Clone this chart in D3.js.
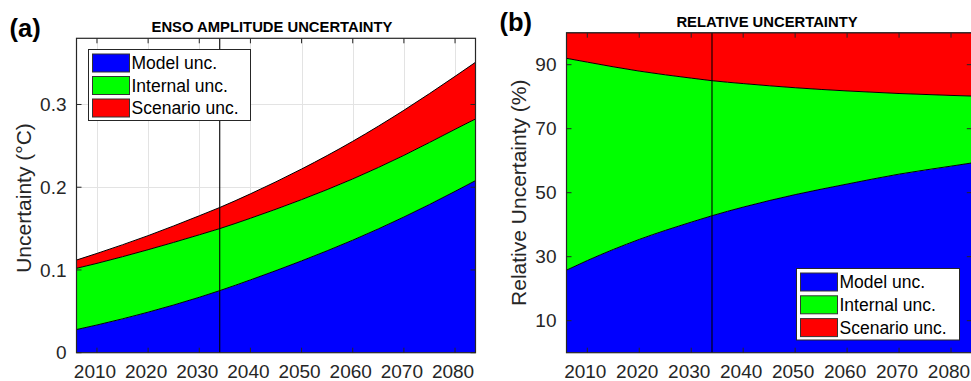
<!DOCTYPE html>
<html>
<head>
<meta charset="utf-8">
<script src="https://cdn.jsdelivr.net/npm/d3@7"></script>
<style>
  html, body { margin: 0; padding: 0; background: #fff; }
  svg { display: block; font-family: "Liberation Sans", Arial, sans-serif; }
</style>
</head>
<body>
<svg id="chart" width="971" height="381"></svg>
<script>
// Sample years shared by both panels
const years = [2006, 2010, 2020, 2030, 2034, 2040, 2050, 2060, 2070, 2080, 2084];

// Panel (a): uncertainty components of ENSO amplitude (°C)
const modelUnc    = [0.028, 0.0335, 0.049, 0.067, 0.075, 0.088, 0.111, 0.136, 0.164, 0.195, 0.208];
const internalUnc = [0.074, 0.0745, 0.0755, 0.0755, 0.075, 0.0745, 0.074, 0.074, 0.0745, 0.075, 0.0745];
const scenarioUnc = [0.010, 0.012, 0.017, 0.023, 0.0255, 0.0295, 0.037, 0.0455, 0.0545, 0.064, 0.0685];

// Panel (b): share of total uncertainty (%)
const relModel    = [25.8, 28.8, 35.4, 40.8, 42.8, 45.5, 49.4, 52.7, 55.8, 58.3, 59.3];
const relInternal = [66.2, 62.0, 52.6, 45.0, 42.2, 38.6, 33.4, 29.1, 25.2, 22.1, 20.9];
const relScenario = [8.0, 9.2, 12.0, 14.2, 15.0, 15.9, 17.2, 18.2, 19.0, 19.6, 19.8];

const seriesKeys   = ["model", "internal", "scenario"];
const seriesNames  = ["Model unc.", "Internal unc.", "Scenario unc."];
const seriesColors = ["#0000ff", "#00ff00", "#ff0000"];

const xTicks  = [2010, 2020, 2030, 2040, 2050, 2060, 2070, 2080];
const yTicksA = [0, 0.1, 0.2, 0.3];
const yTicksB = [10, 30, 50, 70, 90];
const markYear = 2034;

const svg = d3.select("#chart");
const AX = "#262626";

function panel(cfg) {
  const g = svg.append("g");
  const x = d3.scaleLinear().domain([2006, 2084]).range([cfg.x0, cfg.x1]);
  const y = d3.scaleLinear().domain(cfg.yDomain).range([cfg.y1, cfg.y0]);

  const clipId = "clip-" + cfg.id;
  svg.append("clipPath").attr("id", clipId)
    .append("rect").attr("x", cfg.x0).attr("y", cfg.y0)
    .attr("width", cfg.x1 - cfg.x0).attr("height", cfg.y1 - cfg.y0);

  // grid
  if (cfg.grid) {
    const gg = g.append("g").attr("stroke", "#e3e3e3").attr("stroke-width", 1);
    xTicks.forEach(t => gg.append("line")
      .attr("x1", Math.round(x(t)) + 0.5).attr("x2", Math.round(x(t)) + 0.5)
      .attr("y1", cfg.y0).attr("y2", cfg.y1));
    cfg.yTicks.filter(t => t > 0).forEach(t => gg.append("line")
      .attr("x1", cfg.x0).attr("x2", cfg.x1)
      .attr("y1", Math.round(y(t)) + 0.5).attr("y2", Math.round(y(t)) + 0.5));
  }

  // stacked areas
  const rows = years.map((yr, i) => ({
    year: yr, model: cfg.values[0][i], internal: cfg.values[1][i], scenario: cfg.values[2][i]
  }));
  const stacked = d3.stack().keys(seriesKeys)(rows);
  const area = d3.area()
    .x(d => x(d.data.year)).y0(d => y(d[0])).y1(d => y(d[1]))
    .curve(d3.curveMonotoneX);
  const topLine = d3.line()
    .x(d => x(d.data.year)).y(d => y(d[1]))
    .curve(d3.curveMonotoneX);

  const ga = g.append("g").attr("clip-path", `url(#${clipId})`);
  ga.selectAll("path.area").data(stacked).join("path")
    .attr("class", "area")
    .attr("d", area)
    .attr("fill", (d, i) => seriesColors[i]);
  ga.selectAll("path.edge").data(stacked).join("path")
    .attr("class", "edge")
    .attr("d", topLine)
    .attr("fill", "none").attr("stroke", "#000").attr("stroke-width", 1);

  // marker year
  ga.append("line")
    .attr("x1", x(markYear)).attr("x2", x(markYear))
    .attr("y1", cfg.y0).attr("y2", cfg.y1)
    .attr("stroke", "#000").attr("stroke-width", 1.1);

  // box and inward ticks on all sides
  const tl = 5;
  const tg = g.append("g").attr("stroke", AX).attr("stroke-width", 1);
  xTicks.forEach(t => {
    const px = x(t);
    tg.append("line").attr("x1", px).attr("x2", px).attr("y1", cfg.y1).attr("y2", cfg.y1 - tl);
    tg.append("line").attr("x1", px).attr("x2", px).attr("y1", cfg.y0).attr("y2", cfg.y0 + tl);
  });
  cfg.yTicks.forEach(t => {
    const py = y(t);
    tg.append("line").attr("x1", cfg.x0).attr("x2", cfg.x0 + tl).attr("y1", py).attr("y2", py);
    tg.append("line").attr("x1", cfg.x1).attr("x2", cfg.x1 - tl).attr("y1", py).attr("y2", py);
  });
  g.append("rect")
    .attr("x", cfg.x0).attr("y", cfg.y0)
    .attr("width", cfg.x1 - cfg.x0).attr("height", cfg.y1 - cfg.y0)
    .attr("fill", "none").attr("stroke", AX).attr("stroke-width", 1.2);

  // tick labels
  g.append("g").selectAll("text").data(xTicks).join("text")
    .attr("x", d => x(d) - 2).attr("y", 378)
    .attr("text-anchor", "middle").attr("font-size", 19).attr("fill", AX)
    .text(d => d);
  g.append("g").selectAll("text").data(cfg.yTicks).join("text")
    .attr("x", cfg.x0 - 10).attr("y", d => y(d)).attr("dy", "0.35em")
    .attr("text-anchor", "end").attr("font-size", 19).attr("fill", AX)
    .text(cfg.yFormat);

  // axis label
  g.append("text")
    .attr("transform", `translate(${cfg.ylabelX},${cfg.ylabelY}) rotate(-90)`)
    .attr("text-anchor", "middle").attr("font-size", 21).attr("fill", AX)
    .text(cfg.ylabel);

  // title and panel letter
  g.append("text")
    .attr("x", cfg.titleX).attr("y", cfg.titleY)
    .attr("text-anchor", "middle").attr("font-size", 14.8).attr("font-weight", "bold")
    .attr("fill", "#000").text(cfg.title);
  g.append("text")
    .attr("x", cfg.letterX).attr("y", cfg.letterY)
    .attr("font-size", 25.5).attr("font-weight", "bold").attr("fill", "#000")
    .text(cfg.letter);

  // legend
  const L = cfg.legend;
  const lg = g.append("g");
  lg.append("rect").attr("x", L.x).attr("y", L.y).attr("width", L.w).attr("height", L.h)
    .attr("fill", "#fff").attr("stroke", AX).attr("stroke-width", 1);
  seriesNames.forEach((name, i) => {
    const cy = L.y + L.first + i * L.step;
    lg.append("rect")
      .attr("x", L.x + 4).attr("y", cy - 9).attr("width", 37).attr("height", 18)
      .attr("fill", seriesColors[i]).attr("stroke", "#333").attr("stroke-width", 1);
    lg.append("text")
      .attr("x", L.x + 43).attr("y", cy).attr("dy", "0.35em")
      .attr("font-size", 17.5).attr("fill", "#000").text(name);
  });
}

panel({
  id: "a", x0: 76.5, x1: 475.5, y0: 38.3, y1: 352.7,
  yDomain: [0, 0.38], yTicks: yTicksA, yFormat: d => d === 0 ? "0" : d3.format(".1f")(d),
  values: [modelUnc, internalUnc, scenarioUnc], grid: true,
  ylabel: "Uncertainty (\u00B0C)", ylabelX: 30.5, ylabelY: 198,
  title: "ENSO AMPLITUDE UNCERTAINTY", titleX: 272, titleY: 31.5,
  letter: "(a)", letterX: 9.5, letterY: 36.5,
  legend: { x: 88.5, y: 49.5, w: 162, h: 71, first: 13.5, step: 22.5 }
});

panel({
  id: "b", x0: 566.5, x1: 971.8, y0: 32.7, y1: 352.7,
  yDomain: [0, 100], yTicks: yTicksB, yFormat: d => d,
  values: [relModel, relInternal, relScenario], grid: false,
  ylabel: "Relative Uncertainty (%)", ylabelX: 525.5, ylabelY: 192.7,
  title: "RELATIVE UNCERTAINTY", titleX: 767, titleY: 27.3,
  letter: "(b)", letterX: 499.5, letterY: 31,
  legend: { x: 796.5, y: 268.5, w: 163, h: 71.5, first: 13.5, step: 22.8 }
});
</script>
</body>
</html>
